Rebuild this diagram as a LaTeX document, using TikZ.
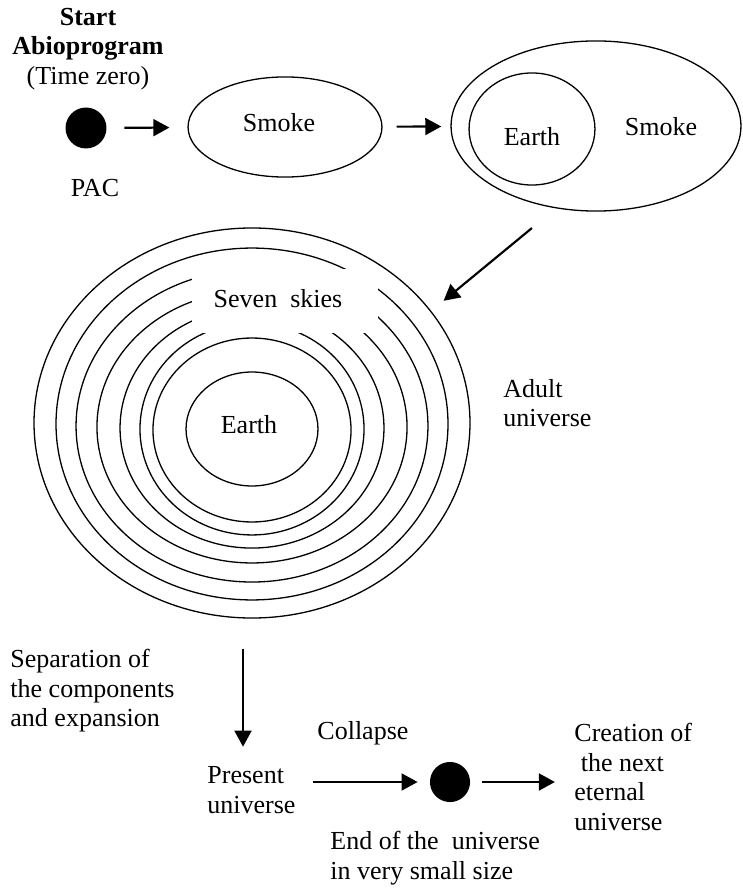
\documentclass[tikz,border=0pt]{standalone}
\usepackage{fontspec}
\setmainfont{Liberation Serif}
\usetikzlibrary{positioning}
\usetikzlibrary{arrows.meta}
\usetikzlibrary{shapes.geometric}

\tikzset{
    ring/.style={ellipse, draw=black, line width=0.6pt, inner sep=0pt},
    blob/.style={circle, fill=black, inner sep=0pt},
    txt/.style={inner sep=0pt, align=left, anchor=west},
    flow/.style={-{Triangle[length=7.4pt,width=7.8pt]}, line width=1pt}
}

\begin{document}
\begin{tikzpicture}[x=0.4615pt, y=-0.4615pt, font=\fontsize{12}{13.6}\selectfont]
    \useasboundingbox (0,0) rectangle (743,888);

    % top row
    \node (start) [inner sep=0pt, align=center] at (88,49) {\textbf{Start}\\\textbf{Abioprogram}\\(Time zero)};
    \node (pacdot) [blob, minimum size=18.9pt] at (86,128) {};
    \node (pac) [inner sep=0pt] at (95,188) {PAC};

    \node (smoke1) [ring, minimum width=89.5pt, minimum height=46.2pt] at (285,127) {};
    \node (smoke1txt) [inner sep=0pt] at (279,123) {Smoke};

    \node (bigsmoke) [ring, minimum width=133.8pt, minimum height=78.5pt] at (596,126) {};
    \node (earth2) [ring, minimum width=58.1pt, minimum height=51.7pt] at (532,129) {};
    \node (earth2txt) [inner sep=0pt] at (532,137) {Earth};
    \node (smoke2txt) [inner sep=0pt] at (661,127) {Smoke};

    \draw [flow, shorten <=8.1pt, shorten >=8.3pt] (pacdot) -- (smoke1);
    \draw [flow, shorten <=6.5pt, shorten >=4.2pt] (smoke1) -- (bigsmoke);

    % adult universe, seven skies
    \foreach \w/\h/\cy [count=\i from 2] in {180.9/162.4/424, 162.4/144.0/426, 143.1/125.5/427, 121.8/110.8/428, 103.4/97.8/429}
        \node (ring\i) [ring, minimum width=\w pt, minimum height=\h pt] at (252,\cy) {};
    \fill [white] (192,269) rectangle (378,333);
    \node (ring1) [ring, minimum width=201.2pt, minimum height=180pt] at (252,423) {};
    \node (ring7) [ring, minimum width=91.4pt, minimum height=84.9pt] at (252,430) {};
    \node (earth3) [ring, minimum width=60.9pt, minimum height=52.6pt] at (252,429) {};
    \node (earth3txt) [inner sep=0pt] at (249,425) {Earth};
    \node (skies) [inner sep=0pt] at (278,299) {Seven~ skies};
    \node (adult) [txt] at (503,403) {Adult\\universe};

    \draw [flow, shorten <=14.3pt, shorten >=7.4pt] (bigsmoke.244.8) -- (ring1.32);

    % bottom row
    \node (separation) [txt] at (10,691) {Separation of\\the components\\and expansion};
    \node (present) [txt] at (207,790) {Present\\universe};
    \node (collapse) [txt] at (317,733) {Collapse};
    \node (enddot) [blob, minimum size=18.5pt] at (450,782) {};
    \node (endtxt) [txt] at (330,858) {End of the~ universe\\in very small size};
    \node (creation) [txt] at (574,777) {Creation of\\~the next\\eternal\\universe};

    \draw [flow, shorten <=13.8pt, shorten >=9pt] ([xshift=-4.15pt]ring1.south) -- ([xshift=-4.15pt]ring1.south |- present.north);
    \draw [flow, shorten <=8pt, shorten >=5.5pt] (present.east |- enddot) -- (enddot);
    \draw [flow, shorten <=5.5pt, shorten >=8.8pt] (enddot) -- (enddot -| creation.west);
\end{tikzpicture}
\end{document}
